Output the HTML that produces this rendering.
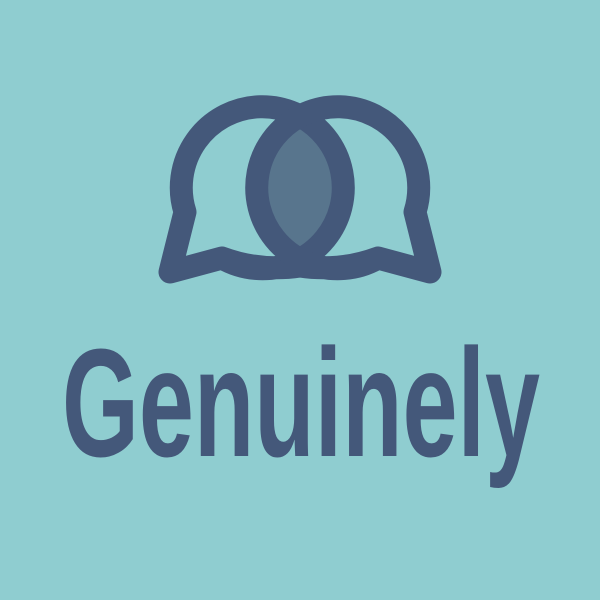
<!DOCTYPE html>
<html><head><meta charset="utf-8"><style>
html,body{margin:0;padding:0;background:#8fcdd0;}
svg{display:block}
</style></head><body>
<svg width="600" height="600" viewBox="0 0 600 600" xmlns="http://www.w3.org/2000/svg">
<rect width="600" height="600" fill="#8fcdd0"/>
<defs><clipPath id="lc"><circle cx="262" cy="187" r="81"/></clipPath></defs>
<circle cx="338" cy="187" r="81" fill="#58758d" clip-path="url(#lc)"/>
<path d="M222,258 A81,81 0 1 0 185,212 L170,272 L222,258 Q260,272 300,266" fill="none" stroke="#44587a" stroke-width="23" stroke-linejoin="round" stroke-linecap="round"/>
<path d="M378,258 A81,81 0 1 1 415,212 L430,272 L378,258 Q340,272 300,266" fill="none" stroke="#44587a" stroke-width="23" stroke-linejoin="round" stroke-linecap="round"/>
<text x="62" y="456" font-family="'Liberation Sans Narrow','Liberation Sans',sans-serif" font-weight="bold" font-size="154" fill="#44587a" textLength="478" lengthAdjust="spacingAndGlyphs">Genuinely</text>
</svg>
</body></html>
